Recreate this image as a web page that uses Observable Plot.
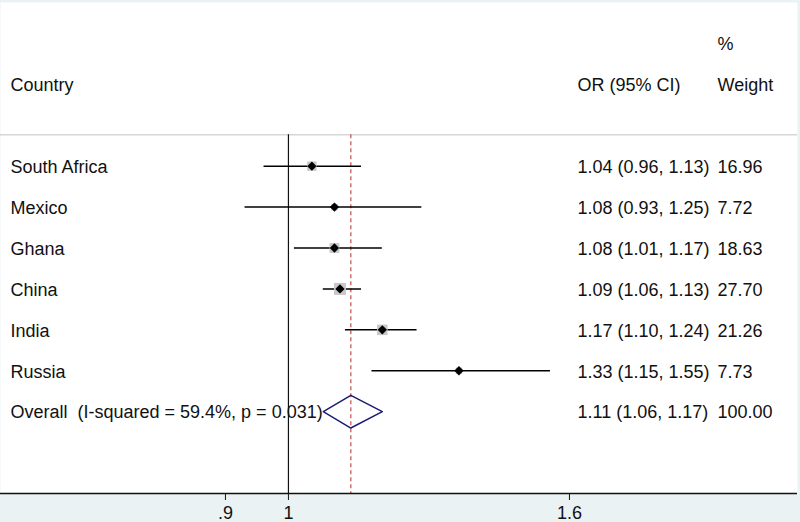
<!DOCTYPE html>
<html>
<head>
<meta charset="utf-8">
<script src="https://cdn.jsdelivr.net/npm/d3@7"></script>
<script src="https://cdn.jsdelivr.net/npm/@observablehq/plot@0.6"></script>
<style>
  html, body { margin: 0; padding: 0; background: #eaf2f3; overflow: hidden; }
  svg text { white-space: pre; }
</style>
</head>
<body>
<script>
// ---- data ----
const countries = ["South Africa", "Mexico", "Ghana", "China", "India", "Russia"];
const orValues  = [1.04, 1.08, 1.08, 1.09, 1.17, 1.33];
const ciLower   = [0.96, 0.93, 1.01, 1.06, 1.10, 1.15];
const ciUpper   = [1.13, 1.25, 1.17, 1.13, 1.24, 1.55];
const weights   = [16.96, 7.72, 18.63, 27.70, 21.26, 7.73];

const overallLabel  = "Overall  (I-squared = 59.4%, p = 0.031)";
const overallOR     = 1.11;
const overallLower  = 1.06;
const overallUpper  = 1.17;
const overallWeight = 100.00;

const headerCountry = "Country";
const headerOR      = "OR (95% CI)";
const headerWeight1 = "%";
const headerWeight2 = "Weight";

const tickValues = [0.9, 1, 1.6];
const tickLabels = [".9", "1", "1.6"];

// ---- derived tables ----
const studies = countries.map((c, i) => ({
  row: i, label: c, or: orValues[i], lo: ciLower[i], hi: ciUpper[i], w: weights[i]
}));
const overallRow = countries.length;
const allRows = [
  ...studies,
  {row: overallRow, label: overallLabel, or: overallOR, lo: overallLower, hi: overallUpper, w: overallWeight}
];
allRows.forEach(d => {
  d.ciText = `${d.or.toFixed(2)} (${d.lo.toFixed(2)}, ${d.hi.toFixed(2)})`;
  d.wText = d.w.toFixed(2);
});
const headerRow = -2;
const sepRow = -0.77;
const diamondHalf = 0.4;
const diamond = [
  {x: overallLower, y: overallRow},
  {x: overallOR, y: overallRow - diamondHalf},
  {x: overallUpper, y: overallRow},
  {x: overallOR, y: overallRow + diamondHalf},
  {x: overallLower, y: overallRow}
];
const colCountry = [{text: headerCountry, row: headerRow}, ...allRows.map(d => ({text: d.label, row: d.row}))];
const colOR = [{text: headerOR, row: headerRow}, ...allRows.map(d => ({text: d.ciText, row: d.row}))];
const colW = [{text: headerWeight1, row: headerRow - 1}, {text: headerWeight2, row: headerRow}, ...allRows.map(d => ({text: d.wText, row: d.row}))];

const textOpts = {y: "row", text: "text", frameAnchor: "left", textAnchor: "start", fill: "#111", dy: 1};

const chart = Plot.plot({
  width: 800,
  height: 522,
  marginTop: 2,
  marginBottom: 29,
  marginLeft: 0,
  marginRight: 3,
  style: {background: "#eaf2f3", fontFamily: "'Liberation Sans', Arial, sans-serif", fontSize: "18px", color: "#111"},
  x: {
    type: "log",
    domain: [0.6178, 2.343],
    ticks: tickValues,
    tickFormat: d => tickLabels[tickValues.indexOf(d)],
    tickSize: 7,
    tickPadding: 6,
    label: null
  },
  y: {domain: [-4, 8], reverse: true, axis: null},
  r: {type: "sqrt", domain: [0, 100], range: [0, 12.86]},
  marks: [
    Plot.frame({fill: "white", stroke: "none"}),
    Plot.ruleY([sepRow], {stroke: "#d6d6d6", strokeWidth: 1.5}),
    Plot.ruleX([1], {y1: sepRow, y2: 8, stroke: "#111", strokeWidth: 1.2}),
    Plot.ruleX([overallOR], {y1: sepRow, y2: 8, stroke: "#c0504d", strokeWidth: 1.2, strokeDasharray: "4,3"}),
    Plot.ruleY([8], {stroke: "#111", strokeWidth: 1.3}),
    Plot.ruleY(studies, {y: "row", x1: "lo", x2: "hi", stroke: "#000", strokeWidth: 1.5}),
    Plot.dot(studies, {x: "or", y: "row", r: "w", symbol: "square", fill: "#c8c8c8"}),
    Plot.dot(studies, {x: "or", y: "row", r: 4.2, symbol: "diamond2", fill: "#000"}),
    Plot.line(diamond, {x: "x", y: "y", stroke: "#1b1b78", strokeWidth: 1.5}),
    Plot.text(colCountry, {...textOpts, dx: 10}),
    Plot.text(colOR, {...textOpts, dx: 577}),
    Plot.text(colW, {...textOpts, dx: 717})
  ]
});
document.body.append(chart);
</script>
</body>
</html>
